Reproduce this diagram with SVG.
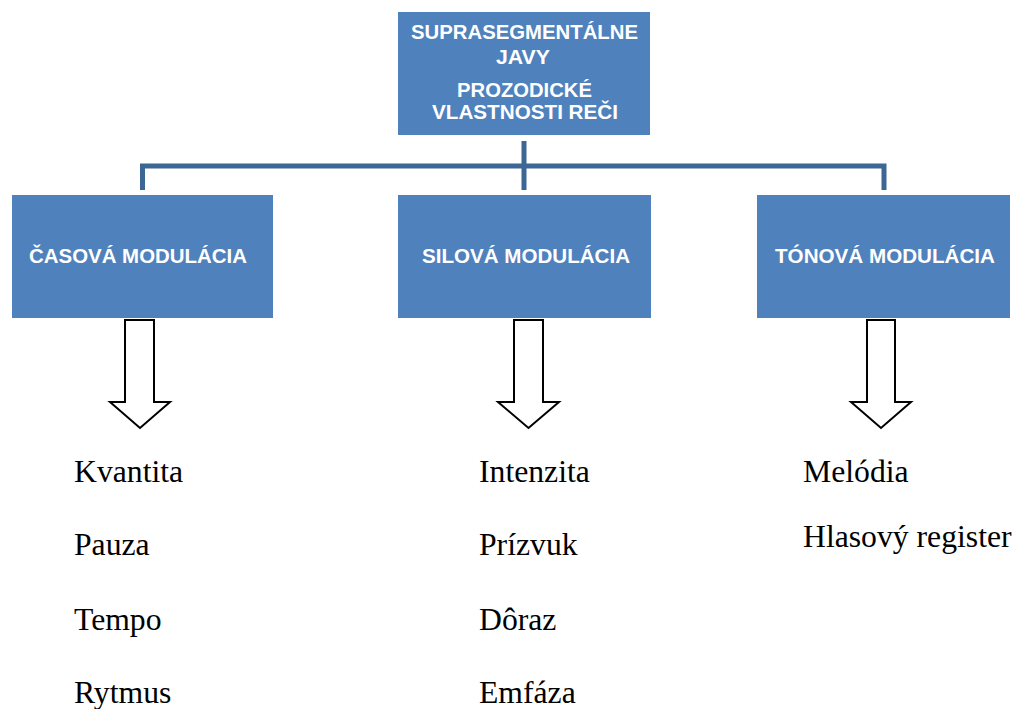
<svg xmlns="http://www.w3.org/2000/svg" width="1014" height="709" viewBox="0 0 1014 709">
<style>
.box{fill:#4f81bd}
.bt{font-family:"Liberation Sans",Arial,sans-serif;font-weight:bold;fill:#ffffff;text-anchor:middle;font-size:19.5px}
.conn{fill:none;stroke:#3c6795;stroke-width:5;stroke-linejoin:miter}
.arr{fill:#ffffff;stroke:#000000;stroke-width:2;stroke-linejoin:miter}
.lt{font-family:"Liberation Serif","Times New Roman",serif;font-size:31.7px;fill:#000000}
</style>
<rect width="1014" height="709" fill="#ffffff"/>
<g id="connectors">
<path class="conn" d="M524 141 V190"/>
<path class="conn" d="M142.5 190 V166 H884 V190"/>
</g>
<g id="root">
<rect class="box" x="398" y="12" width="252" height="123"/>
<text class="bt" x="524.5" y="39" textLength="227" lengthAdjust="spacingAndGlyphs">SUPRASEGMENTÁLNE</text>
<text class="bt" x="523" y="64" textLength="54" lengthAdjust="spacingAndGlyphs">JAVY</text>
<text class="bt" x="524.5" y="97" textLength="135" lengthAdjust="spacingAndGlyphs">PROZODICKÉ</text>
<text class="bt" x="525" y="119" textLength="186" lengthAdjust="spacingAndGlyphs">VLASTNOSTI REČI</text>
</g>
<g id="casova">
<rect class="box" x="12" y="195" width="261" height="123"/>
<text class="bt" x="138" y="263" textLength="218" lengthAdjust="spacingAndGlyphs">ČASOVÁ MODULÁCIA</text>
</g>
<g id="silova">
<rect class="box" x="398" y="195" width="253" height="123"/>
<text class="bt" x="526" y="263" textLength="208" lengthAdjust="spacingAndGlyphs">SILOVÁ MODULÁCIA</text>
</g>
<g id="tonova">
<rect class="box" x="757" y="195" width="253" height="123"/>
<text class="bt" x="885" y="263" textLength="220" lengthAdjust="spacingAndGlyphs">TÓNOVÁ MODULÁCIA</text>
</g>
<g id="arrows">
<path class="arr" d="M125 320 H154 V402 H170 L140 428 L110 402 H125 Z"/>
<path class="arr" d="M514 320 H543 V402 H559 L528.5 428 L498 402 H514 Z"/>
<path class="arr" d="M867 320 H895 V402 H911 L881 428 L851 402 H867 Z"/>
</g>
<g id="list-casova">
<text class="lt" x="74" y="482">Kvantita</text>
<text class="lt" x="74" y="555">Pauza</text>
<text class="lt" x="74" y="630">Tempo</text>
<text class="lt" x="74" y="703">Rytmus</text>
</g>
<g id="list-silova">
<text class="lt" x="479" y="482">Intenzita</text>
<text class="lt" x="479" y="555">Prízvuk</text>
<text class="lt" x="479" y="630">Dôraz</text>
<text class="lt" x="479" y="703">Emfáza</text>
</g>
<g id="list-tonova">
<text class="lt" x="803" y="482">Melódia</text>
<text class="lt" x="803" y="547">Hlasový register</text>
</g>
</svg>
